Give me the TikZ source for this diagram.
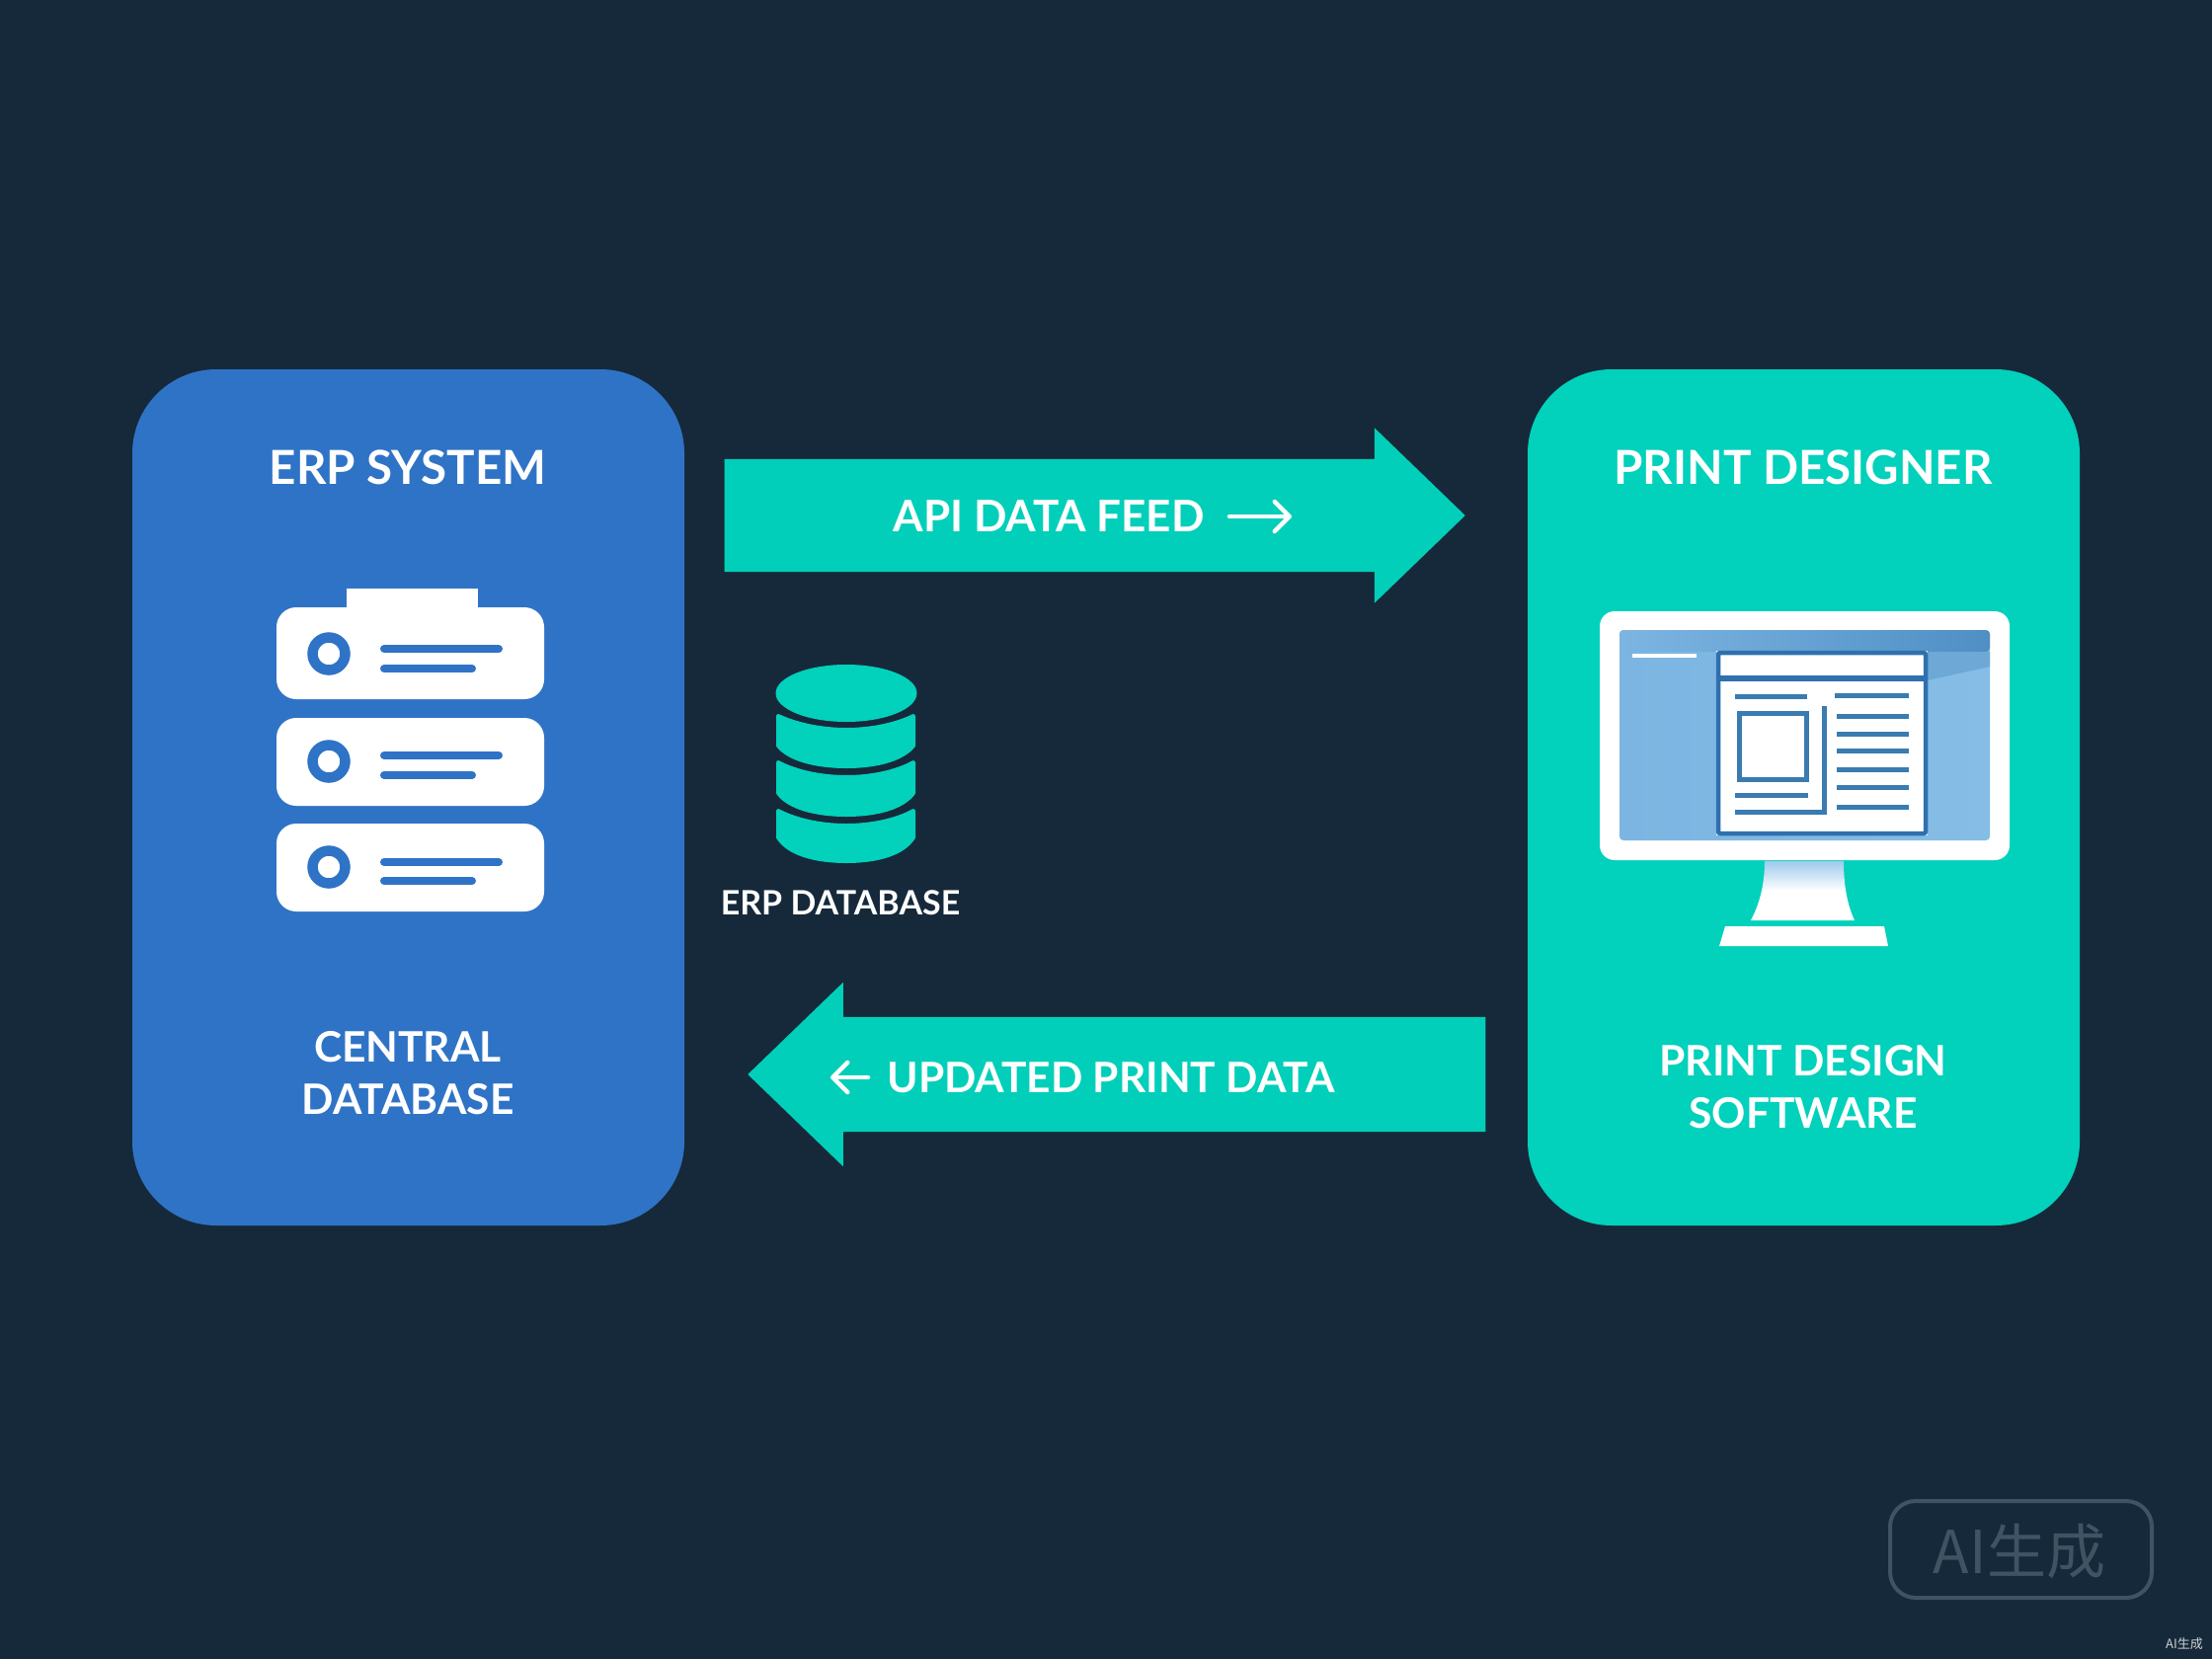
\documentclass[tikz,border=0pt]{standalone}
\usepackage{fontspec}
\setmainfont{Lato}
\newfontfamily\cjkfont{Noto Sans CJK SC}
\usetikzlibrary{shapes.arrows,arrows.meta}
\definecolor{bgc}{HTML}{16293A}
\definecolor{bluec}{HTML}{2F73C6}
\definecolor{tealc}{HTML}{02D1BC}
\definecolor{arrowc}{HTML}{02CFB9}
\definecolor{docc}{HTML}{2F70AE}
\definecolor{doclinec}{HTML}{3A7BB0}
\definecolor{screenc}{HTML}{85BDE6}
\definecolor{screenl}{HTML}{7DB5E2}
\definecolor{bandc}{HTML}{4F8FC4}
\definecolor{wmc}{HTML}{3F5362}
\tikzset{
  card/.style={rounded corners=85pt,minimum width=559pt,minimum height=867pt,inner sep=0pt,draw=none},
  blockarrow/.style={single arrow,fill=arrowc,inner xsep=0pt,single arrow tip angle=88,single arrow head indent=0pt},
  title/.style={text=white,font=\fontsize{47.5}{50}\selectfont\bfseries,inner sep=0pt,align=center},
  small/.style={text=white,font=\fontsize{42.5}{53}\selectfont\bfseries,inner sep=0pt,align=center},
  rack/.style={fill=white,rounded corners=20pt},
  bar/.style={line width=8pt,line cap=round,draw=bluec},
  docline/.style={line width=5pt,draw=doclinec},
  thin/.style={draw=white,line width=4.5pt,line cap=round,-{Straight Barb[round,length=15pt,width=30pt,line width=4.5pt]}},
  dbseg/.style={fill=tealc,draw=tealc,line width=4pt,line join=round}
}
\begin{document}
\begin{tikzpicture}[x=1pt,y=-1pt]
\useasboundingbox (0,0) rectangle (2240,1680);
\fill[bgc] (0,0) rectangle (2240,1680);
% cards
\node[card,fill=bluec] (erp) at (413.5,807.5) {};
\node[card,fill=tealc] (print) at (1826.5,807.5) {};
% block arrows
\node[blockarrow,inner ysep=57pt,single arrow head extend=31.5pt,minimum height=750pt,anchor=tip] (feed) at (1484,522) {};
\node[blockarrow,inner ysep=58pt,single arrow head extend=35pt,minimum height=747pt,anchor=tip,shape border rotate=180] (back) at (757,1088) {};
\node[small,font=\fontsize{44}{53}\selectfont\bfseries] (feedlabel) at (1062,523) {API DATA FEED};
\node[small] (backlabel) at (1125,1091) {UPDATED PRINT DATA};
\coordinate (feedA) at (1245,523); \coordinate (feedB) at (1308,523);
\coordinate (backA) at (879,1091); \coordinate (backB) at (841,1091);
\draw[thin] (feedA) -- (feedB);
\draw[thin] (backA) -- (backB);
% titles
\node[title] (t1) at (413,473) {ERP SYSTEM};
\node[title] (t2) at (1826,473) {PRINT DESIGNER};
\node[small] (c1) at (413,1086.5) {CENTRAL\\DATABASE};
\node[small] (c2) at (1826,1100.5) {PRINT DESIGN\\SOFTWARE};
\node[text=white,font=\fontsize{34}{36}\selectfont\bfseries,inner sep=0pt] (dbl) at (851,914.5) {ERP DATABASE};
% server icon
\fill[white] (351,596) rectangle (484,640);
\foreach \yt/\yb/\c/\la/\lb in {615/708/662/657/677,727/816/771/765/785,834/923/878/873/892}{
  \fill[rack] (280,\yt) rectangle (551,\yb);
  \draw[bluec,line width=10.5pt] (333,\c) circle (16.5pt);
  \draw[bar] (389,\la) -- (505,\la);
  \draw[bar] (389,\lb) -- (478,\lb);
}
% database icon
\fill[tealc] (857,702) ellipse (71.5pt and 29pt);
\draw[dbseg] (788,725) .. controls (805,733) and (830,739) .. (857,739) .. controls (884,739) and (909,733) .. (925,725)
  -- (925,755) .. controls (915,768) and (890,776) .. (857,776) .. controls (824,776) and (798,768) .. (788,755) -- cycle;
\draw[dbseg] (788,772) .. controls (805,781) and (830,787) .. (857,787) .. controls (884,787) and (909,781) .. (925,772)
  -- (925,803) .. controls (915,817) and (890,825) .. (857,825) .. controls (824,825) and (798,817) .. (788,803) -- cycle;
\draw[dbseg] (788,821) .. controls (805,830) and (830,836) .. (857,836) .. controls (884,836) and (909,830) .. (925,821)
  -- (925,848) .. controls (915,864) and (890,872) .. (857,872) .. controls (824,872) and (798,864) .. (788,848) -- cycle;
% monitor
\fill[white,rounded corners=15pt] (1620,619) rectangle (2035,871);
\shade[left color=screenl,right color=screenc,rounded corners=4pt] (1640,638) rectangle (2015,851);
\shade[left color=screenl,right color=bandc,rounded corners=4pt] (1640,638) -- (2015,638) -- (2015,660) -- (1640,660) -- cycle;
\fill[bandc!45!screenc] (1952,660) -- (2015,660) -- (2015,675) -- (1952,689) -- cycle;
\draw[white,line width=3.5pt] (1653,664) -- (1718,664);
\fill[white] (1738,659) rectangle (1952,846);
\draw[docc,line width=4.5pt,rounded corners=2pt] (1740,661) rectangle (1950,844);
\draw[docc,line width=6pt] (1740,687) -- (1950,687);
\draw[docline] (1757,705) -- (1830,705);
\draw[docline] (1858,704) -- (1933,704);
\draw[docline] (1761,722) rectangle (1829,789);
\draw[docline] (1757,805) -- (1831,805);
\draw[docline] (1847,715) -- (1847,822) -- (1757,822);
\foreach \y in {725,743,760,779,797,817}{\draw[docline] (1860,\y) -- (1933,\y);}
\shade[top color=screenc!80!white,bottom color=white,middle color=white] (1787,872) -- (1867,872) .. controls (1867,895) and (1870,915) .. (1878,932) -- (1773,932) .. controls (1782,915) and (1787,895) .. (1787,872) -- cycle;
\fill[white] (1747,938) -- (1908,938) -- (1912,958) -- (1741,958) -- cycle;
% watermark
\draw[wmc,line width=4pt,rounded corners=26pt] (1914,1520) rectangle (2179,1618);
\node[text=wmc,font=\cjkfont\fontsize{60}{70}\selectfont,inner sep=0pt] (wm) at (2045,1571) {AI生成};
\node[text=white!78!bgc,font=\cjkfont\fontsize{13}{15}\selectfont,inner sep=0pt] (wm2) at (2212,1665) {AI生成};
\end{tikzpicture}
\end{document}
